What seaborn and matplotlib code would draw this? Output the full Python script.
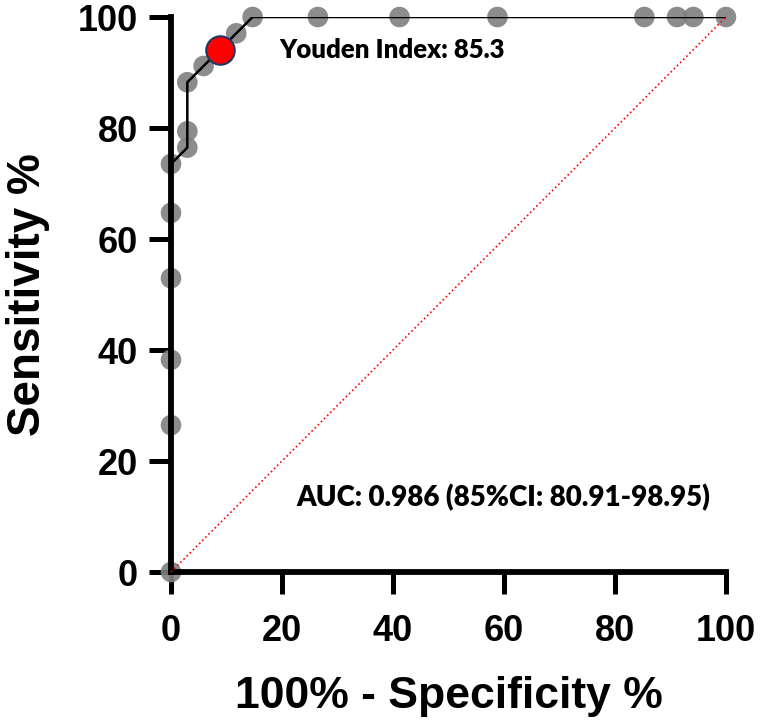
import numpy as np
import pandas as pd
import seaborn as sns
import matplotlib.pyplot as plt

# ROC points (100% - specificity, sensitivity)
fpr = [0, 0, 0, 0, 0, 0, 2.94, 2.94, 2.94, 5.88, 8.82, 11.76, 14.71,
       26.47, 41.18, 58.82, 85.29, 91.18, 94.12, 100]
tpr = [0, 26.47, 38.24, 52.94, 64.71, 73.53, 76.47, 79.41, 88.24, 91.18,
       94.12, 97.06, 100, 100, 100, 100, 100, 100, 100, 100]
youden_x = [8.82]
youden_y = [94.12]
ticks = [0, 20, 40, 60, 80, 100]

df = pd.DataFrame({'fpr': fpr, 'tpr': tpr})
best = pd.DataFrame({'fpr': youden_x, 'tpr': youden_y})

sns.set_style('ticks')
plt.rcParams['font.family'] = ['Liberation Sans', 'DejaVu Sans']
plt.rcParams['axes.edgecolor'] = 'black'
plt.rcParams['xtick.color'] = 'black'
plt.rcParams['ytick.color'] = 'black'
plt.rcParams['text.color'] = 'black'
plt.rcParams['axes.labelcolor'] = 'black'

fig = plt.figure(figsize=(7.62, 7.24), dpi=100)
ax = fig.add_axes([0.2244, 0.2099, 0.7283, 0.7666])

sns.scatterplot(x='fpr', y='tpr', data=df, color='#808080', s=220, alpha=0.9,
                edgecolor='none', ax=ax, zorder=2, clip_on=False, legend=False)
sns.lineplot(x='fpr', y='tpr', data=df, sort=False, estimator=None, color='black',
             lw=1.8, ax=ax, zorder=3)
ax.plot([0, 100], [0, 100], ls=':', color='red', lw=1.2, zorder=4, clip_on=False)
sns.scatterplot(x='fpr', y='tpr', data=best, color='red', s=420, edgecolor='#1f3864',
                linewidth=1.5, ax=ax, zorder=5, clip_on=False, legend=False)

ax.set_xlim(0, 100)
ax.set_ylim(0, 100)
ax.set_xticks(ticks)
ax.set_yticks(ticks)
sns.despine(ax=ax)
for s in ['left', 'bottom']:
    ax.spines[s].set_linewidth(4.2)
ax.tick_params(length=16, width=3.6, labelsize=26, pad=8)
ax.tick_params(axis='x', pad=14)
for lab in ax.get_xticklabels() + ax.get_yticklabels():
    lab.set_fontweight('bold')

ax.set_xlabel('100% - Specificity %', fontsize=32, fontweight='bold', labelpad=20)
ax.set_ylabel('Sensitivity %', fontsize=33, fontweight='bold', labelpad=20)

ax.text(19.6, 94, 'Youden Index: 85.3', fontsize=18.5, fontweight='heavy',
        family=['Lato', 'DejaVu Sans'], va='center', ha='left')
ax.text(22.6, 13.5, 'AUC: 0.986 (85%CI: 80.91-98.95)', fontsize=20, fontweight='heavy',
        family=['Lato', 'DejaVu Sans'], va='center', ha='left')

fig.savefig('out.png', dpi=100)
